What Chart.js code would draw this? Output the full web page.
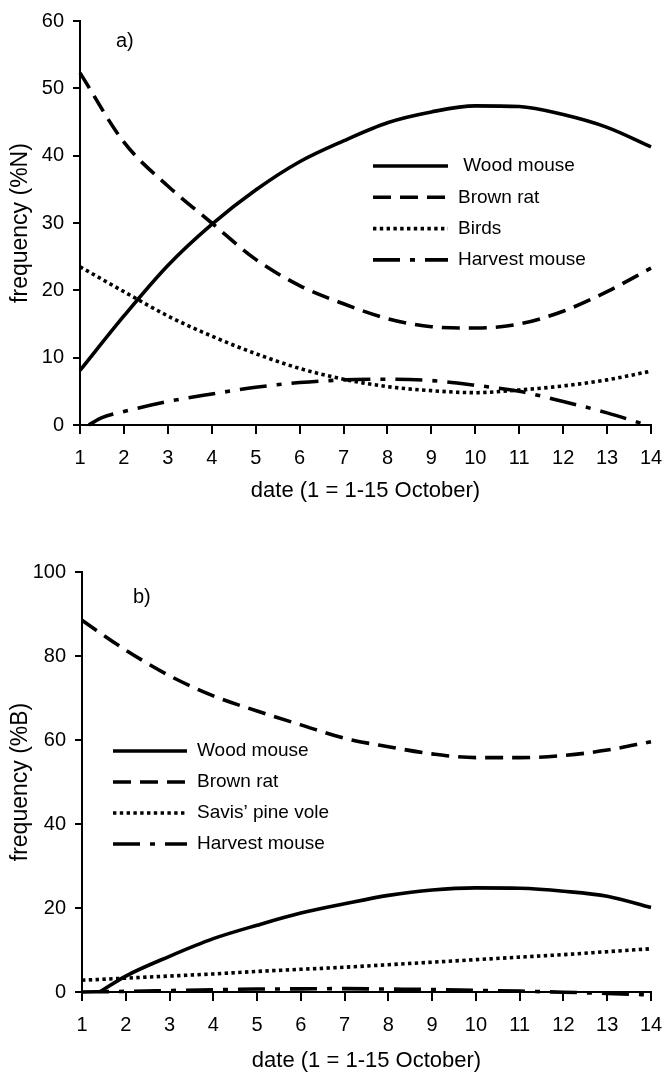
<!DOCTYPE html>
<html>
<head>
<meta charset="utf-8">
<script src="https://cdn.jsdelivr.net/npm/chart.js@4.4.0/dist/chart.umd.min.js"></script>
<style>
    body { margin: 0; background: #fff; }
    .wrap { position: relative; width: 664px; height: 1074px; }
    .wrap canvas { position: absolute; left: 0; }
    #chartA { top: 0; }
    #chartB { top: 520px; }
</style>
</head>
<body>
<div class="wrap">
    <canvas id="chartA" width="664" height="520"></canvas>
    <canvas id="chartB" width="664" height="554"></canvas>
</div>
<script>
// values, x = date index
const days = [1, 2, 3, 4, 5, 6, 7, 8, 9, 10, 11, 12, 13, 14];

// panel a) frequency (%N)
const woodA = [8.1, 16.2, 23.7, 29.8, 34.9, 39.1, 42.2, 44.9, 46.5, 47.4, 47.3, 46.1, 44.2, 41.3];
const ratA = [52.3, 42.0, 35.5, 30.0, 24.6, 20.7, 18.0, 15.8, 14.6, 14.4, 15.0, 16.9, 19.8, 23.3];
const birdsA = [23.5, 19.8, 16.2, 13.2, 10.6, 8.4, 6.8, 5.7, 5.1, 4.8, 5.2, 5.8, 6.7, 8.0];
const harvestDaysA = [1.2, 1.5, 2, 3, 4, 5, 6, 7, 8, 9, 10, 11, 12, 13, 13.9];
const harvestA = [0, 1.1, 2.0, 3.5, 4.6, 5.6, 6.3, 6.7, 6.8, 6.6, 5.9, 5.0, 3.5, 1.8, 0];

// panel b) frequency (%B)
const woodDaysB = [1.4, 2, 3, 4, 5, 6, 7, 8, 9, 10, 11, 12, 13, 14];
const woodB = [0, 3.8, 8.5, 12.7, 15.9, 18.8, 21.0, 23.0, 24.3, 24.8, 24.7, 24.0, 22.8, 20.1];
const ratB = [88.5, 81.4, 75.3, 70.5, 66.9, 63.6, 60.4, 58.4, 56.7, 55.8, 55.8, 56.3, 57.6, 59.6];
const voleB = [2.8, 3.3, 3.8, 4.3, 4.9, 5.4, 5.9, 6.5, 7.1, 7.7, 8.3, 8.9, 9.6, 10.3];
const harvestB = [0, 0.15, 0.35, 0.55, 0.7, 0.75, 0.8, 0.7, 0.6, 0.4, 0.2, -0.05, -0.35, -0.7];

const FONT = "'Liberation Sans', Arial, sans-serif";

function pts(xs, ys) {
    return xs.map((x, i) => ({ x, y: ys[i] }));
}

function line(label, xs, ys, dash) {
    return {
        label,
        data: pts(xs, ys),
        borderColor: "#000",
        borderWidth: 3.6,
        borderDash: dash,
        borderCapStyle: "butt",
        pointRadius: 0,
        cubicInterpolationMode: "monotone",
        fill: false,
        clip: 6
    };
}

// legend drawn inside the plot, plus the panel letter
const innerLegend = {
    id: "innerLegend",
    afterDatasetsDraw(chart, args, opts) {
        const { ctx } = chart;
        ctx.save();
        ctx.font = `${opts.size}px ${FONT}`;
        ctx.fillStyle = "#000";
        ctx.textBaseline = "middle";
        chart.data.datasets.forEach((ds, i) => {
            const y = opts.y + i * opts.step;
            ctx.beginPath();
            ctx.setLineDash(ds.borderDash || []);
            ctx.lineWidth = ds.borderWidth;
            ctx.strokeStyle = "#000";
            ctx.moveTo(opts.x, y);
            ctx.lineTo(opts.x + opts.len, y);
            ctx.stroke();
            ctx.setLineDash([]);
            ctx.fillText(ds.label, opts.x + opts.len + opts.gap, y);
        });
        ctx.font = `${opts.size + 1}px ${FONT}`;
        ctx.fillText(opts.panel, opts.px, opts.py);
        ctx.restore();
    }
};

function make(el, cfg) {
    return new Chart(document.getElementById(el), {
        type: "line",
        data: { datasets: cfg.datasets },
        options: {
            responsive: false,
            animation: false,
            layout: { padding: cfg.padding },
            plugins: {
                legend: { display: false },
                tooltip: { enabled: false },
                innerLegend: cfg.legend
            },
            scales: {
                x: {
                    type: "linear",
                    min: 1,
                    max: 14,
                    afterFit: s => { s.height = cfg.xHeight; s.paddingRight = 0; },
                    ticks: { stepSize: 1, color: "#000", padding: 12, font: { family: FONT, size: 20 } },
                    grid: { drawOnChartArea: false, drawTicks: true, tickLength: 9, color: "#000", lineWidth: 2 },
                    border: { display: true, color: "#000", width: 2 },
                    title: { display: true, text: "date (1 = 1-15 October)", color: "#000", padding: { top: 0, bottom: 0 }, font: { family: FONT, size: 22 } }
                },
                y: {
                    min: 0,
                    max: cfg.yMax,
                    afterFit: s => { s.width = cfg.yWidth; },
                    ticks: { stepSize: cfg.yStep, color: "#000", padding: 9, font: { family: FONT, size: 20 } },
                    grid: { drawOnChartArea: false, drawTicks: true, tickLength: 7, color: "#000", lineWidth: 2 },
                    border: { display: true, color: "#000", width: 2 },
                    title: { display: true, text: cfg.yTitle, color: "#000", padding: { top: 0, bottom: 0 }, font: { family: FONT, size: 23 } }
                }
            }
        },
        plugins: [innerLegend]
    });
}

const SOLID = [];
const DASH = [18, 9];
const DOT = [3.4, 3.4];
const DASHDOT = [27, 10, 5, 10];

make("chartA", {
    datasets: [
        line(" Wood mouse", days, woodA, SOLID),
        line("Brown rat", days, ratA, DASH),
        line("Birds", days, birdsA, DOT),
        line("Harvest mouse", harvestDaysA, harvestA, DASHDOT)
    ],
    padding: { top: 15, left: 7, right: 13, bottom: 16 },
    xHeight: 79,
    yWidth: 73,
    yMax: 60,
    yStep: 10,
    yTitle: "frequency (%N)",
    legend: { x: 373, y: 166, step: 31.3, len: 75, gap: 10, size: 19, panel: "a)", px: 116, py: 41 }
});

make("chartB", {
    datasets: [
        line("Wood mouse", woodDaysB, woodB, SOLID),
        line("Brown rat", days, ratB, DASH),
        line("Savis\u2019 pine vole", days, voleB, DOT),
        line("Harvest mouse", days, harvestB, DASHDOT)
    ],
    padding: { top: 52, left: 7, right: 13, bottom: 0 },
    xHeight: 82,
    yWidth: 75,
    yMax: 100,
    yStep: 20,
    yTitle: "frequency (%B)",
    legend: { x: 113, y: 231, step: 31, len: 74, gap: 10, size: 19, panel: "b)", px: 133, py: 77 }
});
</script>
</body>
</html>
